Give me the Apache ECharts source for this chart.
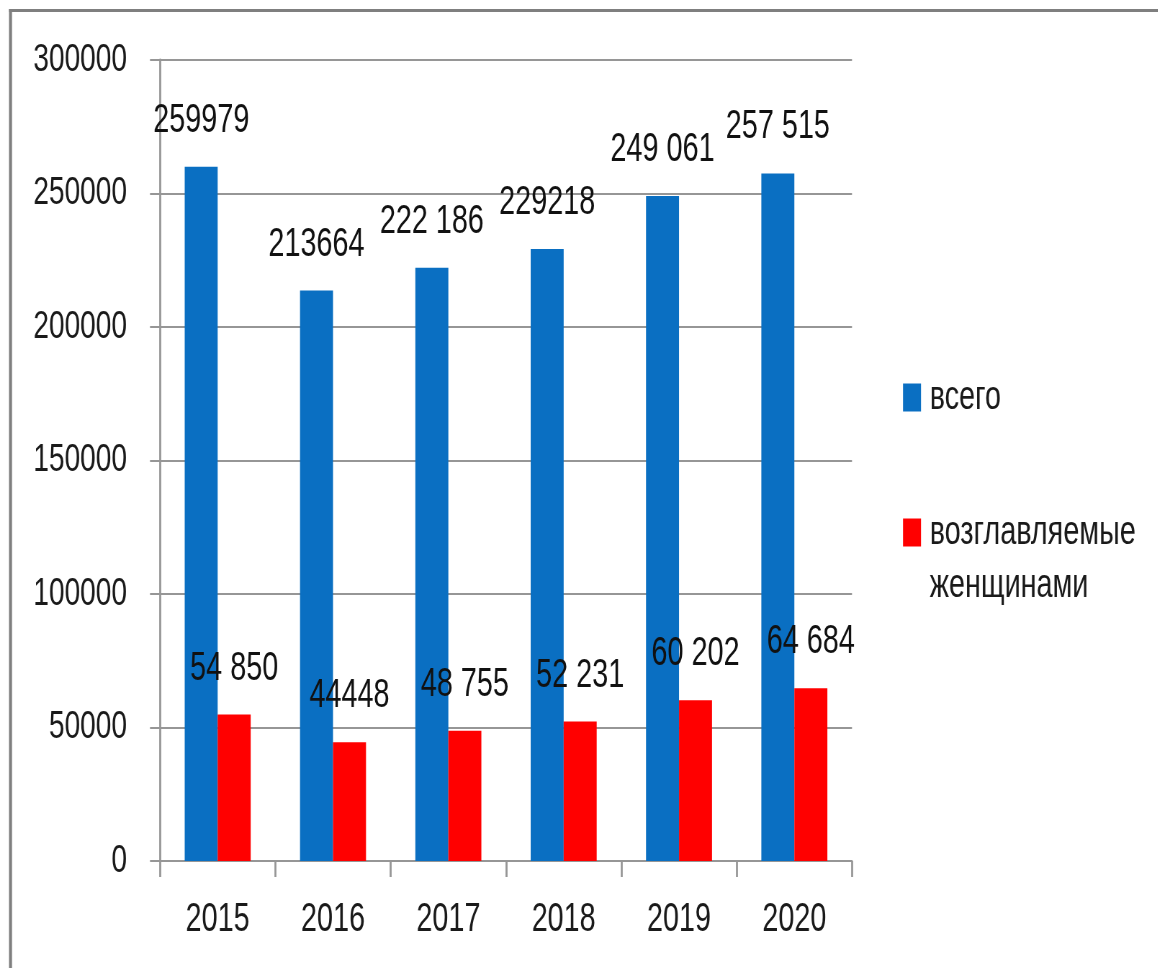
<!DOCTYPE html>
<html>
<head>
<meta charset="utf-8">
<script src="https://cdn.jsdelivr.net/npm/echarts@6/dist/echarts.min.js"></script>
<style>
  html, body { margin: 0; padding: 0; background: #ffffff; overflow: hidden; }
  /* исходная картинка сжата по горизонтали, поэтому рисуем шире и сжимаем */
  #chart { width: 1608px; height: 968px; transform: scaleX(0.72); transform-origin: 0 0; }
</style>
</head>
<body>
<div id="chart"></div>
<script>
// данные
const years = ['2015', '2016', '2017', '2018', '2019', '2020'];
const totalValues = [259979, 213664, 222186, 229218, 249061, 257515];
const womenValues = [54850, 44448, 48755, 52231, 60202, 64684];
const totalLabels = ['259979', '213664', '222 186', '229218', '249 061', '257 515'];
const womenLabels = ['54 850', '44448', '48 755', '52 231', '60 202', '64 684'];
const yTicks = [0, 50000, 100000, 150000, 200000, 250000, 300000];

const font = "'Liberation Sans', Arial, sans-serif";
const gridColor = '#969696';
const sx = 0.72; // горизонтальное сжатие

const chart = echarts.init(document.getElementById('chart'));
chart.setOption({
  animation: false,
  textStyle: { fontFamily: font },
  grid: { left: 160 / sx, right: 1608 - 852 / sx, top: 60, bottom: 107, containLabel: false },
  graphic: [
    // рамка
    { type: 'line', shape: { x1: 9 / sx, y1: 10.5, x2: 1608, y2: 10.5 }, style: { stroke: '#7f7f7f', lineWidth: 3 } },
    { type: 'line', shape: { x1: 10.5 / sx, y1: 9, x2: 10.5 / sx, y2: 968 }, style: { stroke: '#7f7f7f', lineWidth: 3 / sx } }
  ],
  legend: [
    {
      data: ['всего'],
      orient: 'vertical',
      left: 903 / sx, top: 371,
      padding: 0,
      itemWidth: 18 / sx, itemHeight: 28,
      icon: 'rect',
      textStyle: { fontFamily: font, fontSize: 40, color: '#1a1a1a', lineHeight: 53, padding: [0, 0, 0, 7] }
    },
    {
      data: ['возглавляемые\nженщинами'],
      orient: 'vertical',
      left: 903 / sx, top: 453,
      padding: 0,
      itemWidth: 18 / sx, itemHeight: 28,
      icon: 'rect',
      formatter: name => '\n' + name,
      textStyle: { fontFamily: font, fontSize: 40, color: '#1a1a1a', lineHeight: 53, padding: [0, 0, 0, 7] }
    }
  ],
  xAxis: {
    type: 'category',
    data: years,
    axisLine: { lineStyle: { color: gridColor, width: 2 } },
    axisTick: { show: true, length: 16, lineStyle: { color: gridColor, width: 2 / sx } },
    axisLabel: { fontFamily: font, fontSize: 40, color: '#1a1a1a', margin: 39 },
    splitLine: { show: false }
  },
  yAxis: {
    type: 'value',
    min: 0, max: 300000, interval: 50000,
    axisLine: { show: true, lineStyle: { color: gridColor, width: 2 / sx } },
    axisTick: { show: true, length: 10 / sx, lineStyle: { color: gridColor, width: 2 } },
    axisLabel: {
      fontFamily: font, fontSize: 39, color: '#1a1a1a', margin: 33 / sx,
      formatter: v => (yTicks.indexOf(v) >= 0 ? String(v) : '')
    },
    splitLine: { show: true, lineStyle: { color: gridColor, width: 2 } }
  },
  series: [
    {
      name: 'всего',
      type: 'bar',
      data: totalValues,
      barWidth: 33 / sx,
      barGap: '0%',
      itemStyle: { color: '#0a6fc2' },
      label: {
        show: true, position: 'top', distance: 26,
        fontFamily: font, fontSize: 40, color: '#111111',
        formatter: p => totalLabels[p.dataIndex]
      }
    },
    {
      name: 'возглавляемые\nженщинами',
      type: 'bar',
      data: womenValues,
      barWidth: 33 / sx,
      barGap: '0%',
      itemStyle: { color: '#ff0000' },
      label: {
        show: true, position: 'top', distance: 26,
        fontFamily: font, fontSize: 40, color: '#111111',
        formatter: p => womenLabels[p.dataIndex]
      }
    }
  ]
});
</script>
</body>
</html>
